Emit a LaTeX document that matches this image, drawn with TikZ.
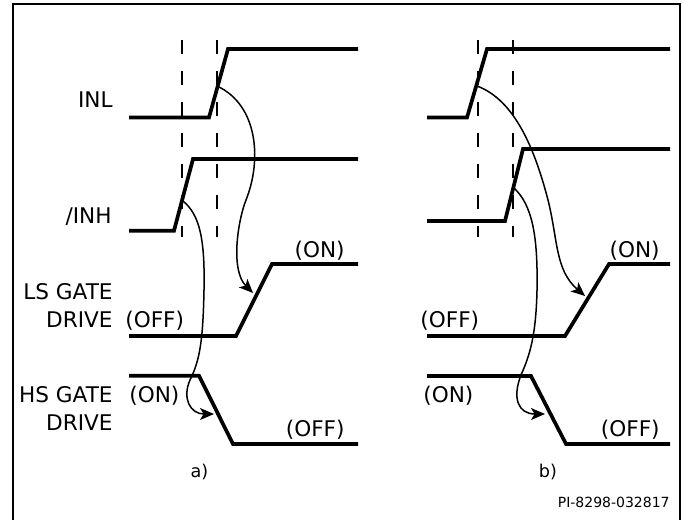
\documentclass[tikz,border=0pt]{standalone}
\usepackage{fontspec}
\setmainfont{DejaVu Sans}
\usetikzlibrary{arrows.meta}

\begin{document}
\begin{tikzpicture}[x=0.5pt,y=-0.5pt,
	sig/.style={line width=1.85pt},
	guide/.style={line width=0.7pt,dash pattern=on 7pt off 8.5pt},
	cause/.style={line width=0.75pt,-{Stealth[length=7pt,width=6pt,inset=1.8pt]}},
	lbl/.style={inner sep=0pt,font=\fontsize{10.8}{12}\selectfont},
	partlbl/.style={inner sep=0pt,font=\fontsize{8.8}{10}\selectfont}]
	\useasboundingbox (0,0) rectangle (683,520);
	\draw[line width=1.2pt] (13,520)--(13,4)--(680,4)--(680,520);
	% a)
	\draw[guide] (182,40)--(182,237);
	\draw[guide] (217,40)--(217,237);
	\draw[sig] (129,117.5)--(209,117.5)--(228,49)--(358,49);
	\draw[sig] (129,230.7)--(174,230.7)--(193,159)--(358,159);
	\draw[sig] (129,336)--(236,336)--(272,264)--(358,264);
	\draw[sig] (129,375.7)--(199,375.7)--(233,444)--(358,444);
	\coordinate (inl-a) at (217,86);
	\coordinate (inh-a) at (183,201);
	\coordinate (ls-a) at (253,293);
	\coordinate (hs-a) at (214,414);
	\draw[cause] (inl-a) .. controls (258,105) and (262,160) .. (246,200)
		.. controls (238,220) and (230,270) .. (ls-a);
	\draw[cause] (inh-a) .. controls (200,215) and (205,240) .. (204,290)
		.. controls (203,340) and (200,360) .. (190,380)
		.. controls (182,398) and (190,414) .. (hs-a);
	% b)
	\draw[guide] (478,40)--(478,237);
	\draw[guide] (513,40)--(513,237);
	\draw[sig] (427,117.5)--(467,117.5)--(487,49)--(670,49);
	\draw[sig] (427,221)--(505,221)--(523,149)--(670,149);
	\draw[sig] (427,336)--(565,336)--(609,264)--(670,264);
	\draw[sig] (427,376)--(531,376)--(566,444)--(670,444);
	\coordinate (inl-b) at (477,86);
	\coordinate (inh-b) at (514,188);
	\coordinate (ls-b) at (585,296);
	\coordinate (hs-b) at (545,414);
	\draw[cause] (inl-b) .. controls (515,100) and (535,150) .. (548,200)
		.. controls (558,240) and (555,270) .. (ls-b);
	\draw[cause] (inh-b) .. controls (532,205) and (538,235) .. (537,290)
		.. controls (536,335) and (530,355) .. (521,375)
		.. controls (512,398) and (518,414) .. (hs-b);
	% signal names
	\node[lbl,anchor=base east] (inl) at (113,107) {INL};
	\node[lbl,anchor=base east] (inh) at (112,223) {/INH};
	\node[lbl,anchor=base east] (ls1) at (113,299) {LS GATE};
	\node[lbl,anchor=base east] (ls2) at (113,327) {DRIVE};
	\node[lbl,anchor=base east] (hs1) at (113,402) {HS GATE};
	\node[lbl,anchor=base east] (hs2) at (113,430) {DRIVE};
	% states
	\node[lbl,anchor=base west] (ls-off-a) at (125,327) {(OFF)};
	\node[lbl,anchor=base east] (ls-on-a) at (345,257) {(ON)};
	\node[lbl,anchor=base west] (hs-on-a) at (129,402) {(ON)};
	\node[lbl,anchor=base east] (hs-off-a) at (345,436) {(OFF)};
	\node[lbl,anchor=base west] (ls-off-b) at (420,327) {(OFF)};
	\node[lbl,anchor=base east] (ls-on-b) at (660,257) {(ON)};
	\node[lbl,anchor=base west] (hs-on-b) at (423,402) {(ON)};
	\node[lbl,anchor=base east] (hs-off-b) at (660,436) {(OFF)};
	\node[partlbl,anchor=base] (part-a) at (199.5,477) {a)};
	\node[partlbl,anchor=base] (part-b) at (548,477) {b)};
	\node[inner sep=0pt,font=\fontsize{7}{8}\selectfont,anchor=base east] (ref) at (670,507) {PI-8298-032817};
\end{tikzpicture}
\end{document}
